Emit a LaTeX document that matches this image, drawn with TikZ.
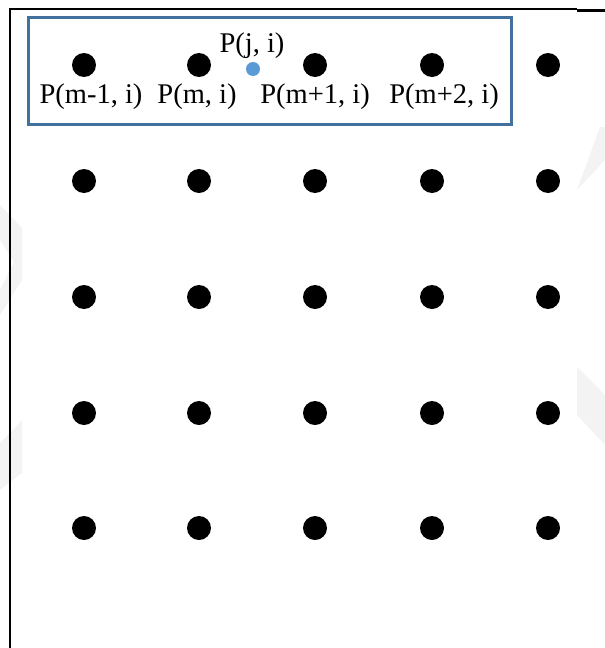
\documentclass[tikz,border=0pt]{standalone}
\usepackage{fontspec}
\setmainfont{Liberation Serif}
\definecolor{boxblue}{HTML}{41719C}
\definecolor{ptblue}{HTML}{5B9BD5}
\definecolor{wm}{HTML}{F3F3F3}
\begin{document}
\begin{tikzpicture}[x=1pt,y=-1pt,
  dotnode/.style={circle,fill=black,inner sep=0pt,minimum size=24pt},
  bluedot/.style={circle,fill=ptblue,inner sep=0pt,minimum size=14pt},
  lbl/.style={inner sep=0pt,font=\fontsize{28.5}{34}\selectfont},
  wmark/.style={fill=wm,draw=none}]
\useasboundingbox (0,0) rectangle (605,648);
% faint watermark shapes
\fill[wmark] (577,190) -- (600,127) -- (605,127) -- (605,160) -- cycle;
\fill[wmark] (577,367) -- (605,395) -- (605,445) -- (577,415) -- cycle;
\fill[wmark] (0,205) -- (22,228) -- (22,280) -- (0,315) -- (0,290) -- (14,262) -- (0,240) -- cycle;
\fill[wmark] (22,420) -- (0,443) -- (0,490) -- (22,473) -- cycle;
% frame lines
\draw[line width=2.5pt] (10,648) -- (10,9) -- (577,9);
\draw[line width=3pt] (577,10) -- (605,10);
% blue box
\draw[boxblue,line width=3pt] (28,17) rectangle (511,124);
% grid of dots
\foreach \c/\x in {1/84,2/199,3/315,4/432,5/548}{
  \foreach \r/\y in {1/65,2/181,3/297,4/413,5/528}{
    \node[dotnode] (d\r\c) at (\x,\y) {};
  }
}
% blue point
\node[bluedot] (pj) at (253,69) {};
% labels
\node[lbl] (l1) at (91,97) {P(m-1, i)};
\node[lbl] (l2) at (197,97) {P(m, i)};
\node[lbl] (l3) at (315,97) {P(m+1, i)};
\node[lbl] (l4) at (444,97) {P(m+2, i)};
\node[lbl] (lj) at (252,46) {P(j, i)};
\end{tikzpicture}
\end{document}
